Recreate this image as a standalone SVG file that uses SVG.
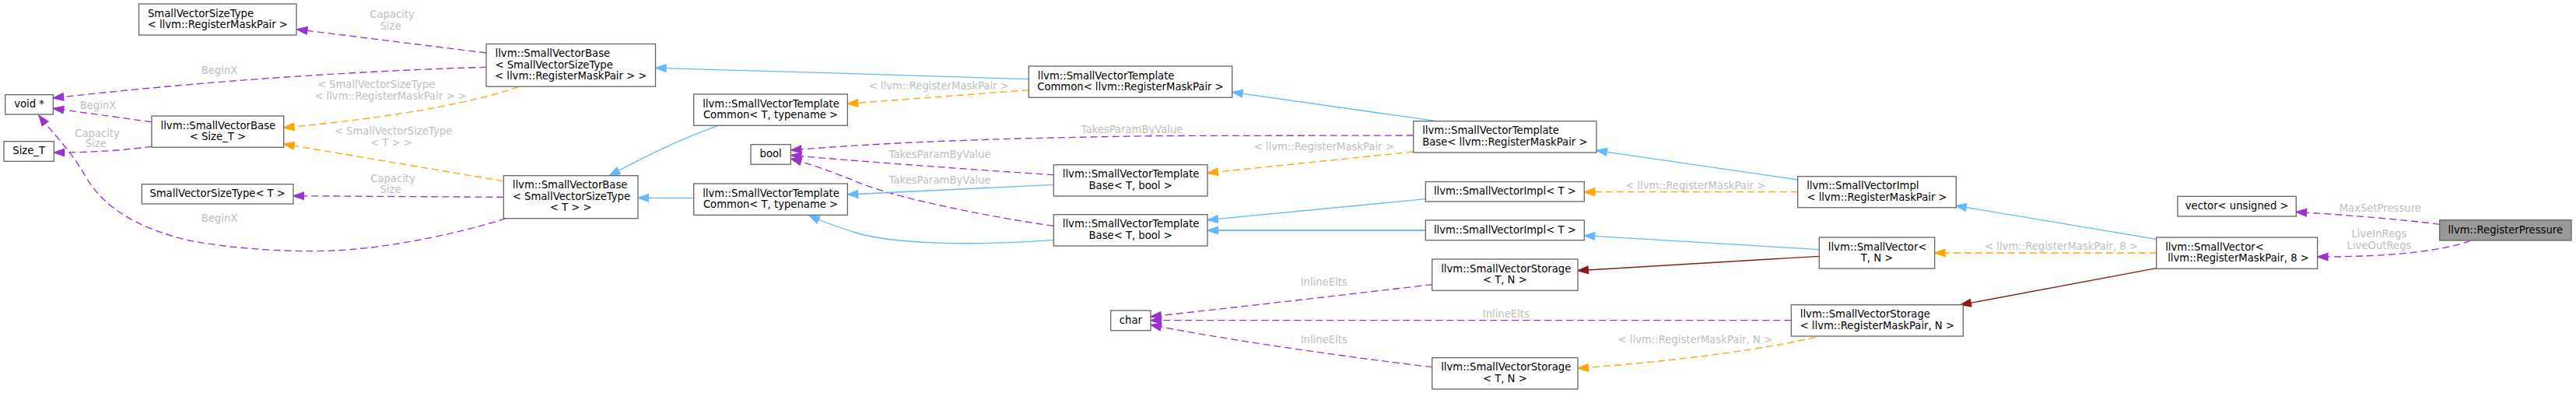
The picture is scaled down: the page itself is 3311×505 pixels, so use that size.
<svg xmlns="http://www.w3.org/2000/svg" width="3311" height="505" viewBox="0 0 3311 505">
<style>
.node rect{fill:#ffffff;stroke:#666666;stroke-width:1.3}
.root rect{fill:#999999;stroke:#666666;stroke-width:1.3}
text{font-family:"DejaVu Sans","Liberation Sans",sans-serif;font-size:13.2px}
.node text,.root text{fill:#000000}
.c{text-anchor:middle}
.l{text-anchor:start}
.el{fill:#bebebe;text-anchor:middle}
.e{fill:none;stroke-width:1.33}
.u{stroke:#9a32cd;stroke-dasharray:9,5;marker-end:url(#au)}
.t{stroke:#ffa500;stroke-dasharray:9,5;marker-end:url(#at)}
.i{stroke:#63b8ff;marker-end:url(#ai)}
.p{stroke:#8b1a1a;marker-end:url(#ap)}
</style>
<defs>
<marker id="au" markerUnits="userSpaceOnUse" markerWidth="18" markerHeight="14" viewBox="-2 -7 18 14" refX="13.3" refY="0" orient="auto" overflow="visible"><path d="M0,-4.7 L13.3,0 L0,4.7 z" fill="#9a32cd" stroke="#9a32cd" stroke-width="1.3"/></marker>
<marker id="at" markerUnits="userSpaceOnUse" markerWidth="18" markerHeight="14" viewBox="-2 -7 18 14" refX="13.3" refY="0" orient="auto" overflow="visible"><path d="M0,-4.7 L13.3,0 L0,4.7 z" fill="#ffa500" stroke="#ffa500" stroke-width="1.3"/></marker>
<marker id="ai" markerUnits="userSpaceOnUse" markerWidth="18" markerHeight="14" viewBox="-2 -7 18 14" refX="13.3" refY="0" orient="auto" overflow="visible"><path d="M0,-4.7 L13.3,0 L0,4.7 z" fill="#63b8ff" stroke="#63b8ff" stroke-width="1.3"/></marker>
<marker id="ap" markerUnits="userSpaceOnUse" markerWidth="18" markerHeight="14" viewBox="-2 -7 18 14" refX="13.3" refY="0" orient="auto" overflow="visible"><path d="M0,-4.7 L13.3,0 L0,4.7 z" fill="#8b1a1a" stroke="#8b1a1a" stroke-width="1.3"/></marker>
</defs>
<rect x="0" y="0" width="3311" height="505" fill="#ffffff"/>
<g id="edges">
<path class="e u" d="M625,68 L381.5,37.7"/>
<path class="e u" d="M625,86.3 C500,90 300,100 68.3,126"/>
<path class="e u" d="M195,156.7 L68.3,139.3"/>
<path class="e u" d="M195,188.3 C160,193 120,196 69.3,196"/>
<path class="e u" d="M647.3,253.3 L377,251.7"/>
<path class="e u" d="M650,280.7 C590,300 510,316 450,320.7 C390,326 290,320 233,306.7 C180,292 135,270 110,226.7 C90,192 65,168 50,148.3"/>
<path class="e u" d="M1816.7,174 L1500,174.5 C1300,177 1150,182 1016.5,193"/>
<path class="e u" d="M1354.3,224.7 C1250,218 1100,207 1016.5,199.5"/>
<path class="e u" d="M1354.3,290.3 C1280,280 1150,255 1100,233 C1070,221 1040,210 1016.5,204"/>
<path class="e u" d="M1840.7,365.7 C1750,376 1600,394 1479,406.7"/>
<path class="e u" d="M2302.3,411.7 L1479,411.7"/>
<path class="e u" d="M1840.7,471.7 C1700,455 1550,432 1479,417.3"/>
<path class="e u" d="M3135.7,288.3 C3080,281 3010,276 2951.3,272.3"/>
<path class="e u" d="M3175,309.3 C3140,322 3080,330 2978.7,330"/>
<path class="e t" d="M666.7,111.3 C610,132 500,152 364.7,164"/>
<path class="e t" d="M646.7,232.7 L364.7,185"/>
<path class="e t" d="M1322.3,115.7 L1089.3,133.3"/>
<path class="e t" d="M1816.7,195 L1552,222.3"/>
<path class="e t" d="M2310.7,246.7 L2036.3,246.7"/>
<path class="e t" d="M2771.7,325 L2486.7,325"/>
<path class="e t" d="M2333.3,433.3 C2280,446 2180,462 2028,473.3"/>
<path class="e i" d="M1322.3,101.7 C1200,97 1000,92 842.7,87.3"/>
<path class="e i" d="M1846.7,155.7 L1583.7,118.3"/>
<path class="e i" d="M2310.7,231 L2052,193.3"/>
<path class="e i" d="M2771.7,307.3 L2514,264.3"/>
<path class="e i" d="M922.7,161.7 C890,173 840,195 783.3,225.7"/>
<path class="e i" d="M891.7,254.3 L820,254.3"/>
<path class="e i" d="M1354.3,237.3 L1089.3,250"/>
<path class="e i" d="M1354.3,308.3 C1250,316 1150,314 1100,299 C1075,291 1055,284 1040,277"/>
<path class="e i" d="M1832.3,255.7 L1552,282.7"/>
<path class="e i" style="stroke-width:2" d="M1832.3,296 L1552,296"/>
<path class="e i" d="M2338.3,320.7 L2036.3,302.7"/>
<path class="e p" d="M2338.3,329.3 L2028,347.7"/>
<path class="e p" d="M2771.7,344.7 L2520,391.7"/>
<text class="el" x="504" y="23">Capacity</text>
<text class="el" x="502" y="37.5">Size</text>
<text class="el" x="282" y="95">BeginX</text>
<text class="el" x="126" y="140">BeginX</text>
<text class="el" x="125" y="175.5">Capacity</text>
<text class="el" x="123.3" y="189">Size</text>
<text class="el" x="505" y="233.5">Capacity</text>
<text class="el" x="502" y="248">Size</text>
<text class="el" x="282" y="285">BeginX</text>
<text class="el" x="1455" y="171">TakesParamByValue</text>
<text class="el" x="1208" y="203">TakesParamByValue</text>
<text class="el" x="1208" y="236">TakesParamByValue</text>
<text class="el" x="1701.7" y="367">InlineElts</text>
<text class="el" x="1935.8" y="408">InlineElts</text>
<text class="el" x="1701.7" y="440.5">InlineElts</text>
<text class="el" x="3059.3" y="272">MaxSetPressure</text>
<text class="el" x="3058" y="305">LiveInRegs</text>
<text class="el" x="3058" y="320">LiveOutRegs</text>
<text class="el" x="483.5" y="113">&lt; SmallVectorSizeType</text>
<text class="el" x="502" y="128">&lt; llvm::RegisterMaskPair &gt; &gt;</text>
<text class="el" x="505.5" y="173">&lt; SmallVectorSizeType</text>
<text class="el" x="503" y="187.5">&lt; T &gt; &gt;</text>
<text class="el" x="1206.7" y="115">&lt; llvm::RegisterMaskPair &gt;</text>
<text class="el" x="1701.7" y="193">&lt; llvm::RegisterMaskPair &gt;</text>
<text class="el" x="2179.2" y="243">&lt; llvm::RegisterMaskPair &gt;</text>
<text class="el" x="2649.5" y="321">&lt; llvm::RegisterMaskPair, 8 &gt;</text>
<text class="el" x="2178.8" y="441">&lt; llvm::RegisterMaskPair, N &gt;</text>
</g>
<g id="n1" class="node"><rect x="178.5" y="5" width="202.5" height="40"/><text class="l" x="190" y="21.6">SmallVectorSizeType</text><text class="c" x="279.75" y="36.1">&lt; llvm::RegisterMaskPair &gt;</text></g>
<g id="n2" class="node"><rect x="625" y="56.5" width="217.5" height="54.7"/><text class="l" x="636.5" y="73.1">llvm::SmallVectorBase</text><text class="l" x="636.5" y="87.6">&lt; SmallVectorSizeType</text><text class="c" x="733.75" y="102.1">&lt; llvm::RegisterMaskPair &gt; &gt;</text></g>
<g id="n3" class="node"><rect x="6.7" y="121.7" width="61.6" height="25.3"/><text class="c" x="37.5" y="138.3">void *</text></g>
<g id="n4" class="node"><rect x="195" y="149" width="169.7" height="40.3"/><text class="l" x="206.5" y="165.6">llvm::SmallVectorBase</text><text class="c" x="279.85" y="180.1">&lt; Size_T &gt;</text></g>
<g id="n5" class="node"><rect x="5" y="181.7" width="64.3" height="25.6"/><text class="c" x="37.15" y="198.3">Size_T</text></g>
<g id="n6" class="node"><rect x="182.3" y="236.7" width="194.7" height="25.3"/><text class="c" x="279.65" y="253.3">SmallVectorSizeType&lt; T &gt;</text></g>
<g id="n7" class="node"><rect x="647.3" y="225.7" width="172.7" height="55"/><text class="l" x="658.8" y="242.3">llvm::SmallVectorBase</text><text class="l" x="658.8" y="256.8">&lt; SmallVectorSizeType</text><text class="c" x="733.65" y="271.3">&lt; T &gt; &gt;</text></g>
<g id="n8" class="node"><rect x="891.7" y="121" width="197.6" height="40.3"/><text class="l" x="903.2" y="137.6">llvm::SmallVectorTemplate</text><text class="c" x="990.5" y="152.1">Common&lt; T, typename &gt;</text></g>
<g id="n9" class="node"><rect x="965" y="185.7" width="51.3" height="25.5"/><text class="c" x="990.65" y="202.3">bool</text></g>
<g id="n10" class="node"><rect x="891.7" y="236" width="197.6" height="40.3"/><text class="l" x="903.2" y="252.6">llvm::SmallVectorTemplate</text><text class="c" x="990.5" y="267.1">Common&lt; T, typename &gt;</text></g>
<g id="n11" class="node"><rect x="1322.3" y="85" width="261.4" height="40.3"/><text class="l" x="1333.8" y="101.6">llvm::SmallVectorTemplate</text><text class="c" x="1453" y="116.1">Common&lt; llvm::RegisterMaskPair &gt;</text></g>
<g id="n12" class="node"><rect x="1354.3" y="211.7" width="197.7" height="40.3"/><text class="l" x="1365.8" y="228.3">llvm::SmallVectorTemplate</text><text class="c" x="1453.15" y="242.8">Base&lt; T, bool &gt;</text></g>
<g id="n13" class="node"><rect x="1354.3" y="275.7" width="197.7" height="40.3"/><text class="l" x="1365.8" y="292.3">llvm::SmallVectorTemplate</text><text class="c" x="1453.15" y="306.8">Base&lt; T, bool &gt;</text></g>
<g id="n14" class="node"><rect x="1427.7" y="399" width="51.3" height="25.7"/><text class="c" x="1453.35" y="415.6">char</text></g>
<g id="n15" class="node"><rect x="1816.7" y="155.7" width="235.3" height="40.3"/><text class="l" x="1828.2" y="172.3">llvm::SmallVectorTemplate</text><text class="c" x="1934.35" y="186.8">Base&lt; llvm::RegisterMaskPair &gt;</text></g>
<g id="n16" class="node"><rect x="1832.3" y="233.5" width="204" height="25.5"/><text class="c" x="1934.3" y="250.1">llvm::SmallVectorImpl&lt; T &gt;</text></g>
<g id="n17" class="node"><rect x="1832.3" y="283" width="204" height="25.7"/><text class="c" x="1934.3" y="299.6">llvm::SmallVectorImpl&lt; T &gt;</text></g>
<g id="n18" class="node"><rect x="1840.7" y="333" width="187.3" height="40.3"/><text class="l" x="1852.2" y="349.6">llvm::SmallVectorStorage</text><text class="c" x="1934.35" y="364.1">&lt; T, N &gt;</text></g>
<g id="n19" class="node"><rect x="1840.7" y="459.7" width="187.3" height="40.3"/><text class="l" x="1852.2" y="476.3">llvm::SmallVectorStorage</text><text class="c" x="1934.35" y="490.8">&lt; T, N &gt;</text></g>
<g id="n20" class="node"><rect x="2310.7" y="226.7" width="203.6" height="40"/><text class="l" x="2322.2" y="243.3">llvm::SmallVectorImpl</text><text class="c" x="2412.5" y="257.8">&lt; llvm::RegisterMaskPair &gt;</text></g>
<g id="n21" class="node"><rect x="2338.3" y="305" width="148.4" height="40"/><text class="l" x="2349.8" y="321.6">llvm::SmallVector&lt;</text><text class="c" x="2412.5" y="336.1">T, N &gt;</text></g>
<g id="n22" class="node"><rect x="2302.3" y="391.7" width="221" height="40.3"/><text class="l" x="2313.8" y="408.3">llvm::SmallVectorStorage</text><text class="c" x="2412.8" y="422.8">&lt; llvm::RegisterMaskPair, N &gt;</text></g>
<g id="n23" class="node"><rect x="2799" y="252.3" width="152.3" height="25.7"/><text class="c" x="2875.15" y="268.9">vector&lt; unsigned &gt;</text></g>
<g id="n24" class="node"><rect x="2771.7" y="305" width="207" height="40.3"/><text class="l" x="2783.2" y="321.6">llvm::SmallVector&lt;</text><text class="c" x="2877" y="336.1">llvm::RegisterMaskPair, 8 &gt;</text></g>
<g id="n25" class="root"><rect x="3135.7" y="282.7" width="169.3" height="26.3"/><text class="c" x="3220.35" y="299.5">llvm::RegisterPressure</text></g>
</svg>
